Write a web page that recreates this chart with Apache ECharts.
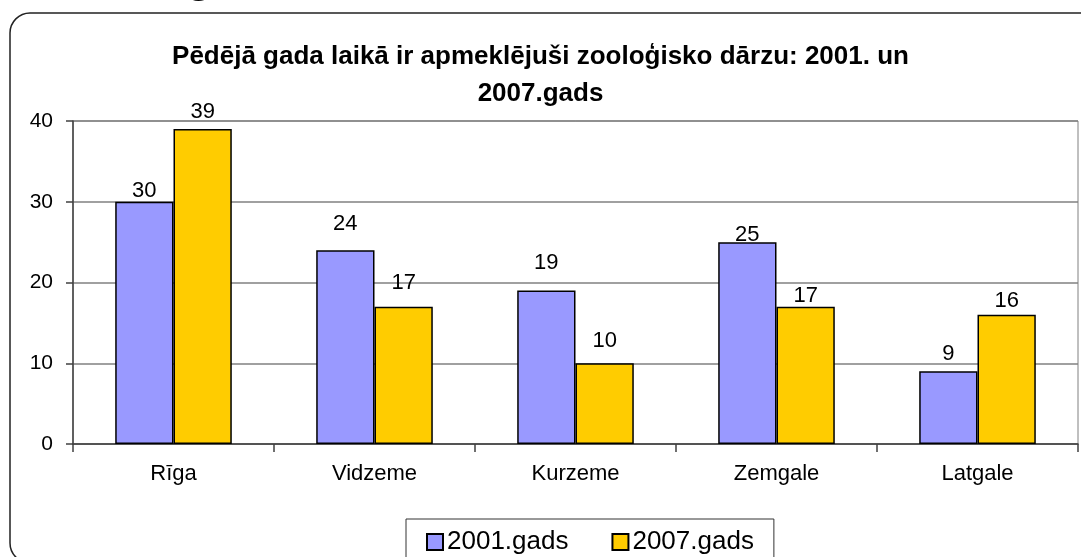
<!DOCTYPE html>
<html>
<head>
<meta charset="utf-8">
<script src="https://cdn.jsdelivr.net/npm/echarts@6/dist/echarts.min.js"></script>
<style>
  html, body { margin: 0; padding: 0; background: #fff; }
  #chart { width: 1081px; height: 557px; }
</style>
</head>
<body>
<div id="chart"></div>
<script>
const regions = ['Rīga', 'Vidzeme', 'Kurzeme', 'Zemgale', 'Latgale']
const seriesNames = ['2001.gads', '2007.gads']
const values2001 = [30, 24, 19, 25, 9]
const values2007 = [39, 17, 10, 17, 16]
const yTicks = [0, 10, 20, 30, 40]

// labels in the source were nudged by hand, so shift them a bit (px, +down)
const labelShift2001 = [6, -9, -11, 10, 0]
const labelShift2007 = [0, -7, -5, 6, 3]

const FONT = '"Liberation Sans", Arial, sans-serif'
const COLORS = { y2001: '#9999FF', y2007: '#FFCC00' }

const chart = echarts.init(document.getElementById('chart'))

function barSeries(name, values, shifts, color) {
  return {
    name,
    type: 'bar',
    data: values.map((v, i) => ({ value: v, label: { offset: [0, shifts[i]] } })),
    barGap: '0%',
    barCategoryGap: '42%',
    itemStyle: { color, borderColor: '#000', borderWidth: 1.5 },
    label: {
      show: true,
      position: 'top',
      distance: 6,
      fontFamily: FONT,
      fontSize: 22,
      color: '#000',
    },
  }
}

chart.setOption({
  animation: false,
  backgroundColor: '#fff',
  title: {
    text: 'Pēdējā gada laikā ir apmeklējuši zooloģisko dārzu: 2001. un\n2007.gads',
    left: 'center',
    top: 33,
    textStyle: {
      fontFamily: FONT,
      fontSize: 26,
      fontWeight: 'bold',
      color: '#000',
      lineHeight: 37,
    },
  },
  graphic: [
    {
      type: 'rect',
      shape: { x: 10, y: 13, width: 1090, height: 550, r: 20 },
      style: { fill: 'none', stroke: '#222', lineWidth: 1.5 },
      silent: true,
    },
    {
      type: 'text',
      x: 190,
      y: 2,
      style: {
        text: 'g',
        fontFamily: '"Liberation Serif", "Times New Roman", serif',
        fontWeight: 'bold',
        fontSize: 36,
        fill: '#000',
        textVerticalAlign: 'bottom',
      },
      silent: true,
    },
  ],
  legend: {
    data: seriesNames,
    left: 406,
    top: 519,
    orient: 'horizontal',
    itemWidth: 16,
    itemHeight: 16,
    itemGap: 43,
    icon: 'rect',
    padding: [10, 20, 20, 20],
    borderColor: '#333',
    borderWidth: 1,
    textStyle: { fontFamily: FONT, fontSize: 26, color: '#000', padding: [0, 0, 0, -1] },
  },
  grid: {
    left: 73,
    right: 3,
    top: 121,
    bottom: 113,
    show: true,
    borderColor: '#808080',
    borderWidth: 1,
  },
  xAxis: {
    type: 'category',
    data: regions,
    axisLine: { lineStyle: { color: '#404040', width: 1.5 } },
    axisTick: { show: true, length: 8, lineStyle: { color: '#404040', width: 1.5 } },
    axisLabel: { fontFamily: FONT, fontSize: 22, color: '#000', margin: 19 },
  },
  yAxis: {
    type: 'value',
    min: yTicks[0],
    max: yTicks[yTicks.length - 1],
    interval: 10,
    axisLine: { show: true, lineStyle: { color: '#404040', width: 1.5 } },
    axisTick: { show: true, length: 7, lineStyle: { color: '#404040', width: 1.5 } },
    axisLabel: { fontFamily: FONT, fontSize: 21, color: '#000', margin: 20 },
    splitLine: { lineStyle: { color: '#808080', width: 1.5 } },
  },
  series: [
    barSeries(seriesNames[0], values2001, labelShift2001, COLORS.y2001),
    barSeries(seriesNames[1], values2007, labelShift2007, COLORS.y2007),
  ],
})
</script>
</body>
</html>
